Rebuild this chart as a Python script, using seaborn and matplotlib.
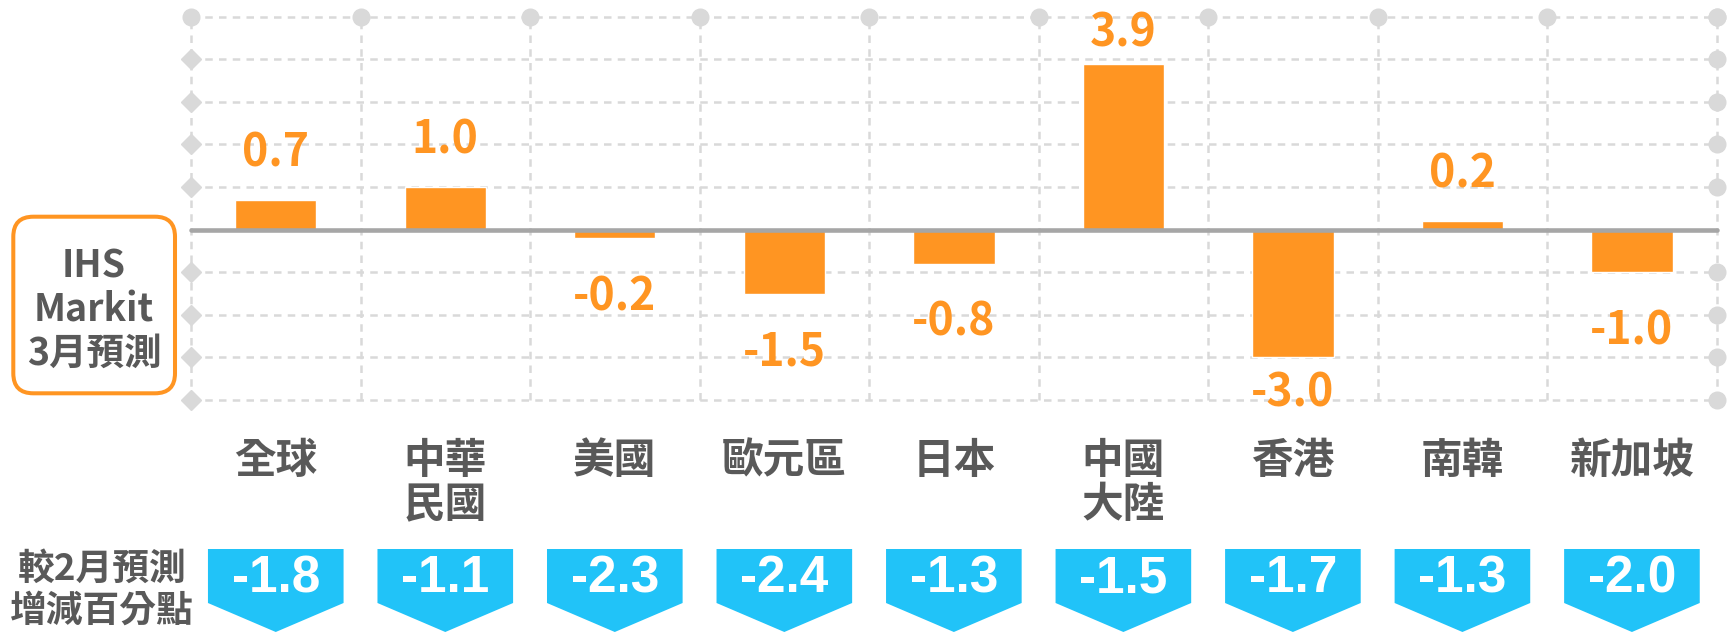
import numpy as np
import pandas as pd
import seaborn as sns
import matplotlib
matplotlib.use('Agg')
import matplotlib.pyplot as plt
import matplotlib.transforms as mtransforms
from matplotlib.patches import Polygon, FancyBboxPatch

# data
regions = ['全球', '中華\n民國', '美國', '歐元區', '日本', '中國\n大陸', '香港', '南韓', '新加坡']
march_forecast = [0.7, 1.0, -0.2, -1.5, -0.8, 3.9, -3.0, 0.2, -1.0]
change_vs_feb = [-1.8, -1.1, -2.3, -2.4, -1.3, -1.5, -1.7, -1.3, -2.0]

ORANGE = '#ff9522'
BLUE = '#21c3f8'
GRID = '#d9d9d9'
TEXT = '#595959'

sns.set_style('white')
plt.rcParams['font.family'] = ['Noto Sans CJK TC', 'DejaVu Sans']

df = pd.DataFrame({'region': regions, 'value': march_forecast})

W, H = 1728, 632
fig = plt.figure(figsize=(W / 100, H / 100), dpi=100)
ax = fig.add_axes([191 / W, 1 - 400 / H, (1716.7 - 191) / W, (400 - 16.7) / H])

sns.barplot(data=df, x='region', y='value', color=ORANGE, saturation=1,
            width=0.48, ax=ax, zorder=3)

n = len(regions)
ax.set_xlim(-0.5, n - 0.5)
ax.set_ylim(-4, 5)

# dashed grid
x_edges = np.arange(n + 1) - 0.5
y_levels = np.arange(-4, 6)
dash = (0, (3, 2.5))
for y in y_levels:
    if y != 0:
        ax.axhline(y, color=GRID, lw=1.8, ls=dash, zorder=1, clip_on=False)
for xe in x_edges:
    ax.axvline(xe, color=GRID, lw=1.8, ls=dash, zorder=1, clip_on=False)
ax.axhline(0, color='#a6a6a6', lw=3.3, zorder=4, clip_on=False)

# dots / diamonds on the grid border
ax.plot(x_edges, np.full(n + 1, 5), 'o', color=GRID, ms=12, clip_on=False, zorder=2)
left = y_levels[(y_levels != 0) & (y_levels != 5)]
ax.plot(np.full(len(left), -0.5), left, 'D', color=GRID, ms=10, clip_on=False, zorder=2)
right = y_levels[y_levels != 0]
ax.plot(np.full(len(right), n - 0.5), right, 'o', color=GRID, ms=12, clip_on=False, zorder=2)

# value labels
for i, v in enumerate(march_forecast):
    if v >= 0:
        off = 12 if v > 2.5 else 24
    else:
        off = -35 if v < -2.5 else -52
    ax.annotate(f'{v:.1f}', (i, v), xytext=(0, off), textcoords='offset points',
                ha='center', va='baseline', color=ORANGE, fontsize=32,
                fontweight='bold', zorder=5)

ax.set_xlabel('')
ax.set_ylabel('')
ax.set_yticks([])
ax.tick_params(axis='x', length=0, pad=29, labelsize=30, labelcolor=TEXT)
for t in ax.get_xticklabels():
    t.set_fontweight('bold')
    t.set_linespacing(1.05)
sns.despine(ax=ax, left=True, bottom=True, top=True, right=True)

# blue arrow boxes with change vs Feb forecast
trans = mtransforms.blended_transform_factory(ax.transData, fig.transFigure)
top, mid, tip = 1 - 549 / H, 1 - 603 / H, 1 - 632 / H
hw = 0.4
for i, d in enumerate(change_vs_feb):
    poly = Polygon([(i - hw, top), (i + hw, top), (i + hw, mid), (i, tip), (i - hw, mid)],
                   closed=True, transform=trans, facecolor=BLUE, edgecolor='none')
    fig.add_artist(poly)
    fig.text(i, 1 - 579 / H, f'{d:.1f}', transform=trans, ha='center', va='center',
             color='white', fontsize=37, fontweight='bold', family=['Liberation Sans'])

# left side captions
box = FancyBboxPatch((0.133, 2.387), 1.617, 1.766, boxstyle='round,pad=0,rounding_size=0.2',
                     transform=fig.dpi_scale_trans, facecolor='white', edgecolor=ORANGE, lw=2.9)
fig.add_artist(box)
fig.text(94 / W, 1 - 310 / H, 'IHS\nMarkit\n3月預測', ha='center', va='center',
         fontsize=27, fontweight='bold', color=TEXT, linespacing=1.15)
fig.text(102 / W, 1 - 590 / H, '較2月預測\n增減百分點', ha='center', va='center',
         fontsize=26.5, fontweight='bold', color=TEXT, linespacing=1.15)

fig.savefig('out.png', dpi=100)
